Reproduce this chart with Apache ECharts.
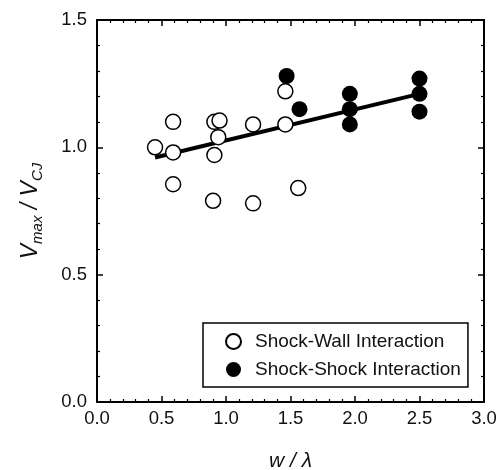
<!DOCTYPE html>
<html>
<head>
<meta charset="utf-8">
<script src="https://cdn.jsdelivr.net/npm/echarts@6/dist/echarts.min.js"></script>
<style>
  html,body{margin:0;padding:0;background:#fff;}
  #chart{width:504px;height:470px;}
</style>
</head>
<body>
<div id="chart"></div>
<script>
  // values
  var wallX = [0.45, 0.59, 0.59, 0.59, 0.91, 0.95, 0.94, 0.91, 0.90, 1.21, 1.21, 1.46, 1.46, 1.56];
  var wallY = [1.00, 1.10, 0.98, 0.855, 1.10, 1.105, 1.04, 0.97, 0.79, 1.09, 0.78, 1.09, 1.22, 0.84];
  var shockX = [1.47, 1.57, 1.96, 1.96, 1.96, 2.50, 2.50, 2.50];
  var shockY = [1.28, 1.15, 1.21, 1.15, 1.09, 1.27, 1.21, 1.14];
  var fitX = [0.45, 2.50];
  var fitY = [0.96, 1.21];

  function pairs(xs, ys){
    return xs.map(function(x, i){ return [x, ys[i]]; });
  }

  var font = 'Liberation Sans, Arial, sans-serif';
  var lbl = {fontFamily: font, fontSize: 18.5, color: '#111'};
  var tick = {inside: true, length: 6, lineStyle: {color: '#000', width: 1.5}};
  var minor = {show: true, splitNumber: 5, length: 3, lineStyle: {color: '#000', width: 1.2}};
  var line = {show: true, onZero: false, lineStyle: {color: '#000', width: 2}};

  var myChart = echarts.init(document.getElementById('chart'));
  myChart.setOption({
    animation: false,
    backgroundColor: '#fff',
    grid: {left: 97, right: 20, top: 20, bottom: 68, outerBoundsMode: 'none'},
    xAxis: [{
      type: 'value', min: 0, max: 3, interval: 0.5,
      position: 'bottom',
      axisLine: line, axisTick: tick, minorTick: minor,
      splitLine: {show: false},
      axisLabel: Object.assign({margin: 7, formatter: function(v){ return v.toFixed(1); }}, lbl),
      name: 'w / λ',
      nameLocation: 'middle',
      nameGap: 49,
      nameTextStyle: {fontFamily: font, fontSize: 21, fontStyle: 'italic', color: '#111'}
    }, {
      type: 'value', min: 0, max: 3, interval: 0.5,
      position: 'top',
      axisLine: line, axisTick: tick, minorTick: minor,
      splitLine: {show: false},
      axisLabel: {show: false}
    }],
    yAxis: [{
      type: 'value', min: 0, max: 1.5, interval: 0.5,
      position: 'left',
      axisLine: line, axisTick: tick, minorTick: minor,
      splitLine: {show: false},
      axisLabel: Object.assign({margin: 10, formatter: function(v){ return v.toFixed(1); }}, lbl),
      name: '{v|V}{s|max}{v| / V}{s|CJ}',
      nameLocation: 'middle',
      nameGap: 52,
      nameRotate: 90,
      nameTextStyle: {
        rich: {
          v: {fontFamily: font, fontSize: 23, fontStyle: 'italic', color: '#111', lineHeight: 28},
          s: {fontFamily: font, fontSize: 15, fontStyle: 'italic', color: '#111', verticalAlign: 'bottom', lineHeight: 28, padding: [13, 0, 0, 0]}
        }
      }
    }, {
      type: 'value', min: 0, max: 1.5, interval: 0.5,
      position: 'right',
      axisLine: line, axisTick: tick, minorTick: minor,
      splitLine: {show: false},
      axisLabel: {show: false}
    }],
    legend: {
      orient: 'vertical',
      left: 203, top: 323,
      padding: [9, 7, 8, 22],
      itemGap: 9,
      itemWidth: 15, itemHeight: 15,
      borderColor: '#000', borderWidth: 1.5,
      textStyle: {fontFamily: font, fontSize: 19, color: '#111', padding: [0, 0, 0, 9]},
      data: ['Shock-Wall Interaction', 'Shock-Shock Interaction']
    },
    series: [
      {
        name: 'fit', type: 'line', data: pairs(fitX, fitY),
        symbol: 'none', lineStyle: {color: '#000', width: 4}, z: 1
      },
      {
        name: 'Shock-Wall Interaction', type: 'scatter', data: pairs(wallX, wallY),
        symbol: 'circle', symbolSize: 15,
        itemStyle: {color: '#fff', borderColor: '#000', borderWidth: 1.5, opacity: 1}, z: 3
      },
      {
        name: 'Shock-Shock Interaction', type: 'scatter', data: pairs(shockX, shockY),
        symbol: 'circle', symbolSize: 16,
        itemStyle: {color: '#000', borderColor: '#000', borderWidth: 0, opacity: 1}, z: 3
      }
    ]
  });
</script>
</body>
</html>
